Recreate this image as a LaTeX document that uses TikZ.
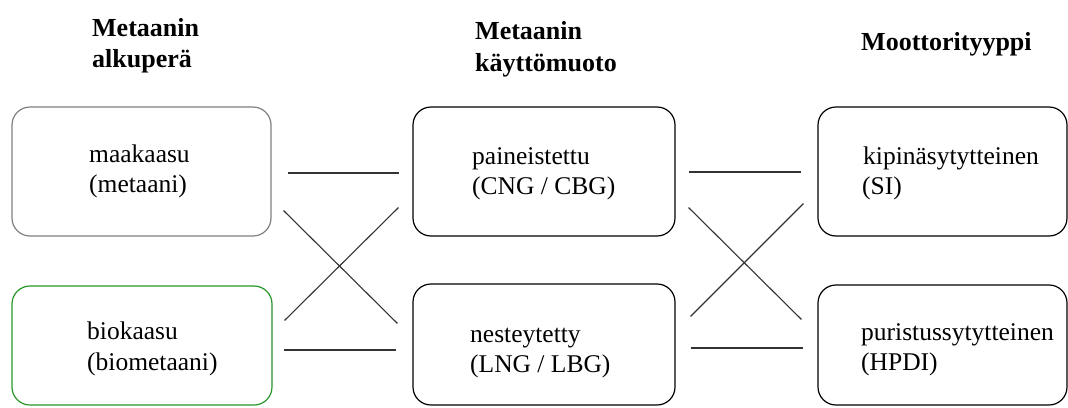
\documentclass[tikz,border=0pt]{standalone}
\usepackage{fontspec}
\IfFontExistsTF{LiberationSerif-Regular.ttf}{%
  \setmainfont{LiberationSerif}[Extension=.ttf, UprightFont=*-Regular, BoldFont=*-Bold, ItalicFont=*-Italic, BoldItalicFont=*-BoldItalic]}{%
  \setmainfont{Liberation Serif}}
\definecolor{boxgray}{RGB}{128,128,128}
\definecolor{boxgreen}{RGB}{40,150,40}
\begin{document}
\begin{tikzpicture}[x=1pt,y=-1pt,
  box/.style={draw, line width=1.2pt, rounded corners=18pt, minimum width=#1, inner sep=0pt},
  lbl/.style={anchor=base west, inner sep=0pt, font=\rmfamily\fontsize{25.5}{30}\selectfont},
  ttl/.style={anchor=base west, inner sep=0pt, font=\rmfamily\fontsize{26}{30}\selectfont\bfseries},
  con/.style={line width=1.1pt, draw=black!80}]
\useasboundingbox (0,0) rectangle (1068,407);
% boxes
\node[box=259pt, minimum height=129pt, draw=boxgray] (A) at (141.5,171.5) {};
\node[box=260pt, minimum height=119pt, draw=boxgreen] (B) at (142,345.5) {};
\node[box=262pt, minimum height=129pt] (C) at (544,171.5) {};
\node[box=262pt, minimum height=121pt] (D) at (544,344.5) {};
\node[box=249pt, minimum height=129pt] (E) at (942.5,171.5) {};
\node[box=249pt, minimum height=120pt] (F) at (942.5,345) {};
% titles
\node[ttl] (t1a) at (92,36) {Metaanin};
\node[ttl] (t1b) at (92,67) {alkuperä};
\node[ttl] (t2a) at (475,39) {Metaanin};
\node[ttl] (t2b) at (475,71) {käyttömuoto};
\node[ttl] (t3a) at (861,50) {Moottorityyppi};
% box texts
\node[lbl] (a1) at (89,162) {maakaasu};
\node[lbl] (a2) at (89,192) {(metaani)};
\node[lbl] (b1) at (87,339) {biokaasu};
\node[lbl] (b2) at (87,370) {(biometaani)};
\node[lbl] (c1) at (472,164) {paineistettu};
\node[lbl] (c2) at (472,194) {(CNG / CBG)};
\node[lbl] (d1) at (470,342) {nesteytetty};
\node[lbl] (d2) at (470,372) {(LNG / LBG)};
\node[lbl] (e1) at (863,164) {kipinäsytytteinen};
\node[lbl] (e2) at (862,194) {(SI)};
\node[lbl] (f1) at (861,340) {puristussytytteinen};
\node[lbl] (f2) at (861,370) {(HPDI)};
% connectors left
\draw[con] ([shift={(16pt,-1.5pt)}]A.east) -- ([shift={(-13pt,-1.5pt)}]C.west);
\draw[con] ([shift={(12pt,26pt)}]A.south east) -- ([shift={(-15pt,-40pt)}]D.north west);
\draw[con] ([shift={(12pt,-35pt)}]B.north east) -- ([shift={(-14pt,29pt)}]C.south west);
\draw[con] ([shift={(11pt,-4.5pt)}]B.east) -- ([shift={(-16pt,-5.5pt)}]D.west);
% connectors right
\draw[con] ([shift={(13pt,-0.5pt)}]C.east) -- ([shift={(-16pt,-0.5pt)}]E.west);
\draw[con] ([shift={(13pt,29pt)}]C.south east) -- ([shift={(-16pt,-35pt)}]F.north west);
\draw[con] ([shift={(15pt,-33pt)}]D.north east) -- ([shift={(-14pt,33pt)}]E.south west);
\draw[con] ([shift={(15pt,-3.5pt)}]D.east) -- ([shift={(-14pt,-3pt)}]F.west);
\end{tikzpicture}
\end{document}
